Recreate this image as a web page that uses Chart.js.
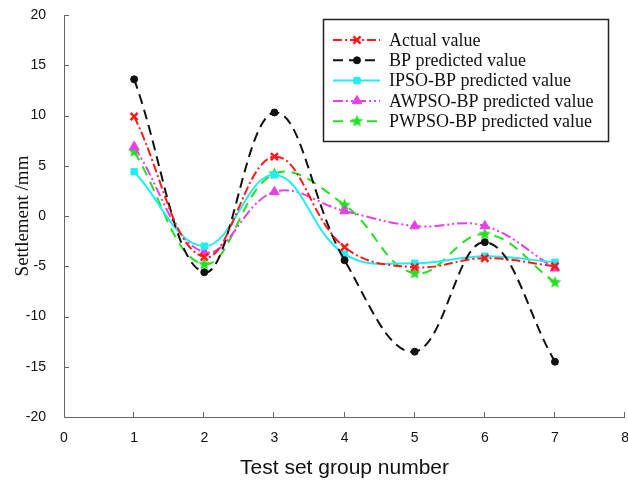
<!DOCTYPE html>
<html><head><meta charset="utf-8">
<script src="https://cdn.jsdelivr.net/npm/chart.js@4/dist/chart.umd.min.js"></script>
<style>html,body{margin:0;padding:0;background:#fff;overflow:hidden}#wrap{width:628px;height:489px;overflow:hidden}</style>
</head><body><div id="wrap"><canvas id="c" width="634" height="489"></canvas></div>
<script>
const groups = [1, 2, 3, 4, 5, 6, 7];
const actualValue = [9.9, -4.1, 5.9, -3.1, -5.1, -4.2, -5.0];
const bpValue = [13.6, -5.6, 10.3, -4.4, -13.5, -2.6, -14.5];
const ipsoValue = [4.4, -3.0, 4.1, -3.8, -4.7, -4.0, -4.6];
const awpsoValue = [6.9, -3.6, 2.4, 0.5, -1.0, -1.0, -5.2];
const pwpsoValue = [6.4, -4.8, 4.2, 1.1, -5.7, -1.8, -6.6];
const seriesNames = ['Actual value', 'BP predicted value', 'IPSO-BP predicted value', 'AWPSO-BP predicted value', 'PWPSO-BP predicted value'];
const xTicks = [0, 1, 2, 3, 4, 5, 6, 7, 8];
const yTicks = [-20, -15, -10, -5, 0, 5, 10, 15, 20];

function starImg(color, r) {
  const c = document.createElement('canvas');
  const s = Math.ceil(r * 2 + 2);
  c.width = s; c.height = s;
  const g = c.getContext('2d');
  g.fillStyle = color;
  g.beginPath();
  for (let i = 0; i < 10; i++) {
    const rr = i % 2 === 0 ? r : r * 0.45;
    const a = -Math.PI / 2 + i * Math.PI / 5;
    const px = s / 2 + rr * Math.cos(a), py = s / 2 + rr * Math.sin(a);
    if (i === 0) g.moveTo(px, py); else g.lineTo(px, py);
  }
  g.closePath(); g.fill();
  return c;
}
const greenStar = starImg('#22e022', 6.5);

const pts = arr => groups.map((g, i) => ({x: g, y: arr[i]}));
const styles = [
  {color: '#ff1a1a', dash: [9, 3, 2, 3], ps: 'crossRot', r: 5, bw: 2.5, fill: '#ff1a1a'},
  {color: '#111111', dash: [10, 6], ps: 'circle', r: 3.5, bw: 1, fill: '#111111'},
  {color: '#22eef2', dash: [], ps: 'rect', r: 4.5, bw: 1, fill: '#22eef2'},
  {color: '#e83ee8', dash: [10, 3, 2, 3, 2, 3], ps: 'triangle', r: 5.5, bw: 1, fill: '#e83ee8'},
  {color: '#22e022', dash: [10, 7], ps: greenStar, r: 6, bw: 1, fill: '#22e022'}
];
const values = [actualValue, bpValue, ipsoValue, awpsoValue, pwpsoValue];

const datasets = values.map((v, i) => ({
  label: seriesNames[i],
  data: pts(v),
  borderColor: styles[i].color,
  backgroundColor: styles[i].fill,
  borderWidth: 2,
  borderDash: styles[i].dash,
  tension: 0.4,
  pointStyle: styles[i].ps,
  pointRadius: styles[i].r,
  pointBorderWidth: styles[i].bw,
  pointBorderColor: styles[i].color,
  pointBackgroundColor: styles[i].fill
}));

const innerTicks = {
  id: 'innerTicks',
  afterDraw(chart) {
    const ctx = chart.ctx, xs = chart.scales.x, ys = chart.scales.y;
    const a = chart.chartArea;
    ctx.save();
    ctx.strokeStyle = '#666';
    ctx.lineWidth = 1;
    ctx.beginPath();
    ctx.moveTo(a.left + 0.5, a.top); ctx.lineTo(a.left + 0.5, a.bottom + 0.5); ctx.lineTo(a.right, a.bottom + 0.5);
    xTicks.forEach(t => { if (t === 0) return; const px = Math.round(xs.getPixelForValue(t)) - 0.5; ctx.moveTo(px, a.bottom); ctx.lineTo(px, a.bottom - 5); });
    yTicks.forEach(t => { if (t === -20) return; const py = Math.round(ys.getPixelForValue(t)) + 0.5; ctx.moveTo(a.left, py); ctx.lineTo(a.left + 5, py); });
    ctx.stroke();
    ctx.restore();
  }
};

const customLegend = {
  id: 'customLegend',
  afterDraw(chart) {
    const ctx = chart.ctx;
    const bx = 323, by = 19, bw = 285, bh = 122;
    ctx.save();
    ctx.fillStyle = '#fff';
    ctx.fillRect(bx, by, bw, bh);
    ctx.strokeStyle = '#222';
    ctx.lineWidth = 1.5;
    ctx.strokeRect(bx + 0.5, by + 0.5, bw, bh);
    chart.data.datasets.forEach((ds, i) => {
      const y = by + 21 + i * 20.3;
      ctx.strokeStyle = ds.borderColor;
      ctx.lineWidth = 2;
      ctx.setLineDash(ds.borderDash);
      ctx.beginPath(); ctx.moveTo(333, y); ctx.lineTo(380, y); ctx.stroke();
      ctx.setLineDash([]);
      ctx.fillStyle = ds.pointBackgroundColor;
      ctx.strokeStyle = ds.pointBorderColor;
      ctx.lineWidth = ds.pointBorderWidth;
      Chart.helpers.drawPoint(ctx, {pointStyle: ds.pointStyle, radius: ds.pointRadius, borderWidth: ds.pointBorderWidth, rotation: 0}, 357, y);
      ctx.fillStyle = '#111';
      ctx.font = '18px "Liberation Serif", "Times New Roman", serif';
      ctx.textBaseline = 'middle';
      ctx.textAlign = 'left';
      ctx.fillText(ds.label, 389, y + 1);
    });
    ctx.restore();
  }
};

new Chart(document.getElementById('c'), {
  type: 'line',
  data: {datasets},
  options: {
    responsive: false,
    animation: false,
    layout: {padding: {top: 15, right: 0, left: 0, bottom: 0}},
    plugins: {legend: {display: false}, tooltip: {enabled: false}},
    scales: {
      x: {
        type: 'linear', min: 0, max: 8,
        afterBuildTicks: s => { s.ticks = xTicks.map(v => ({value: v})); },
        afterFit: s => { s.height = 72; },
        grid: {display: false},
        border: {display: false},
        ticks: {color: '#111', font: {family: '"Liberation Sans", Arial', size: 14}, padding: 5, maxRotation: 0},
        title: {display: true, text: 'Test set group number', color: '#111', font: {family: '"Liberation Sans", Arial', size: 21}, padding: {top: 2, bottom: 8}}
      },
      y: {
        min: -20, max: 20,
        afterBuildTicks: s => { s.ticks = yTicks.map(v => ({value: v})); },
        afterFit: s => { s.width = 64; s.paddingTop = 0; s.paddingBottom = 0; },
        grid: {display: false},
        border: {display: false},
        ticks: {color: '#111', font: {family: '"Liberation Sans", Arial', size: 14}, padding: 10},
        title: {display: true, text: 'Settlement /mm', color: '#111', font: {family: '"Liberation Serif", "Times New Roman", serif', size: 19}, padding: {bottom: 0, top: 12}}
      }
    }
  },
  plugins: [innerTicks, customLegend]
});
</script></body></html>
